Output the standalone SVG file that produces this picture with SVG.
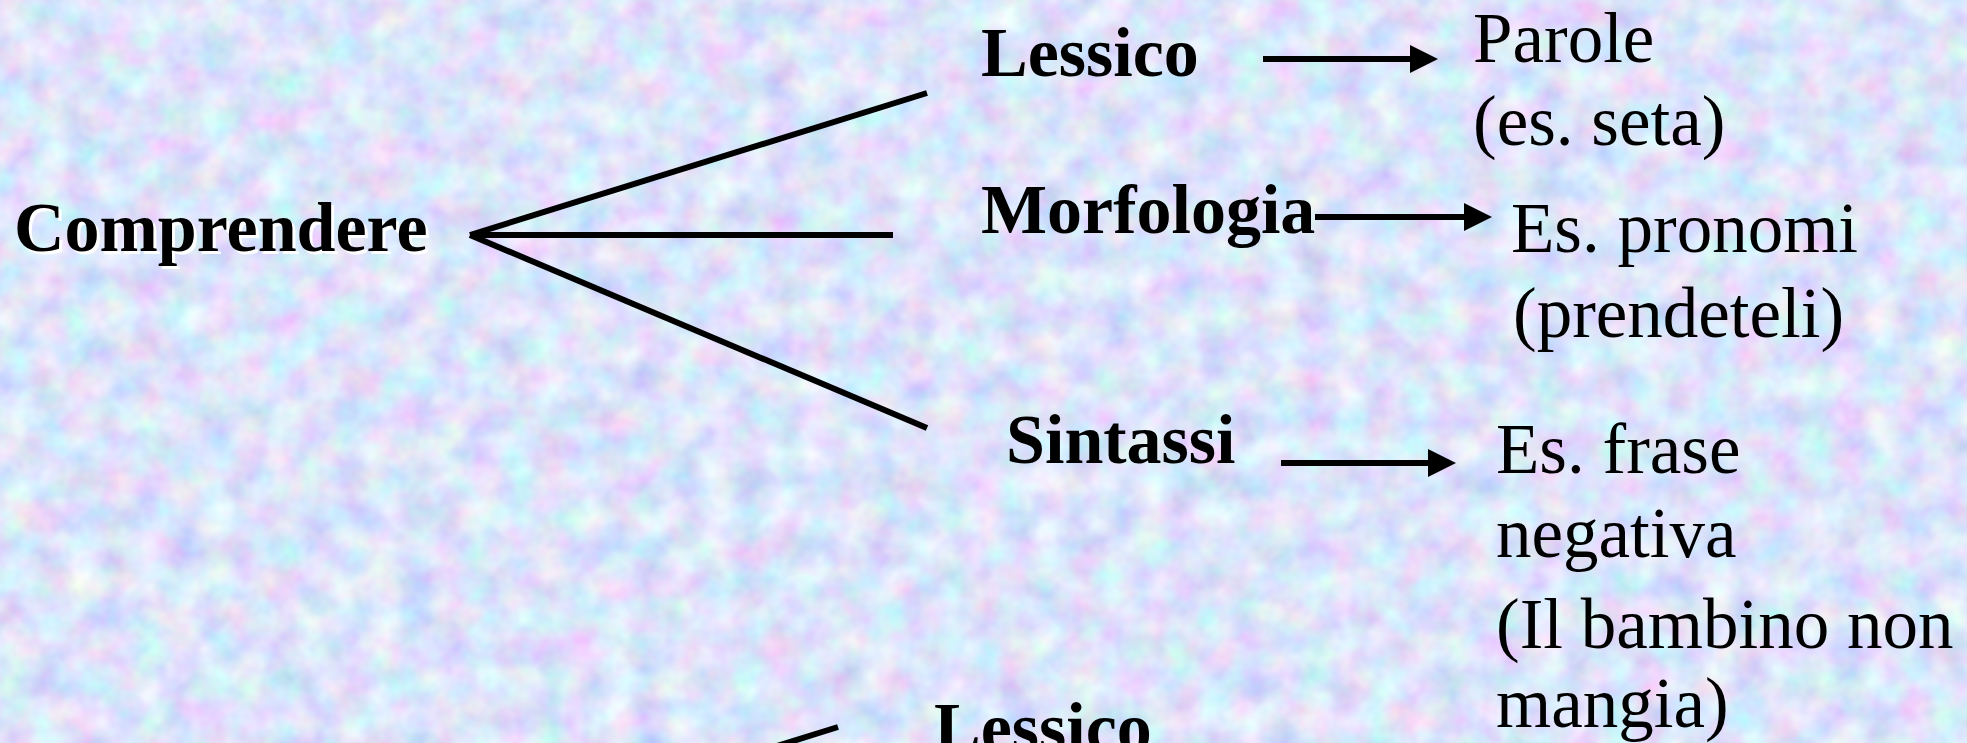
<svg xmlns="http://www.w3.org/2000/svg" width="1967" height="743" viewBox="0 0 1967 743">
  <defs>
    <filter id="tex" x="0" y="0" width="1967" height="743" filterUnits="userSpaceOnUse">
      <feTurbulence type="fractalNoise" baseFrequency="0.03" numOctaves="3" seed="11" result="n"/>
      <feColorMatrix in="n" type="matrix" values="0.6 0 0 0 0.42  0 0.6 0 0 0.48  0 0 0.3 0 0.81  0 0 0 0 1"/>
    </filter>
    <marker id="ah" markerUnits="userSpaceOnUse" markerWidth="32" markerHeight="32" refX="18" refY="14" orient="auto">
      <path d="M0,0 L28,14 L0,28 z" fill="#000"/>
    </marker>
    <style>
      .bold { font-family: "Liberation Serif", "Times New Roman", serif; font-weight: bold; font-size: 70px; fill: #000; }
      .reg { font-family: "Liberation Serif", "Times New Roman", serif; font-size: 71px; fill: #000; }
      .shadow { fill: #fff; }
      .branch { stroke: #000; stroke-width: 6; fill: none; stroke-linecap: butt; }
      .arrow { stroke: #000; stroke-width: 6; fill: none; marker-end: url(#ah); }
    </style>
  </defs>

  <rect x="0" y="0" width="1967" height="743" fill="#b6c8f4"/>
  <rect x="0" y="0" width="1967" height="743" filter="url(#tex)"/>

  <g id="connectors">
    <line class="branch" x1="470" y1="235" x2="927" y2="93"/>
    <line class="branch" x1="470" y1="235" x2="893" y2="235"/>
    <line class="branch" x1="470" y1="235" x2="927" y2="428"/>
    <line class="branch" x1="838" y1="727" x2="700" y2="770"/>
    <line class="arrow" x1="1263" y1="59" x2="1428" y2="59"/>
    <line class="arrow" x1="1315" y1="217" x2="1482" y2="217"/>
    <line class="arrow" x1="1281" y1="463" x2="1446" y2="463"/>
  </g>

  <g id="node-comprendere">
    <text class="bold shadow" x="17" y="254" font-size="71">Comprendere</text>
    <text class="bold" x="14" y="251" font-size="71">Comprendere</text>
  </g>
  <g id="node-lessico">
    <text class="bold" x="981" y="76">Lessico</text>
  </g>
  <g id="node-morfologia">
    <text class="bold" x="981" y="233">Morfologia</text>
  </g>
  <g id="node-sintassi">
    <text class="bold" x="1006" y="463">Sintassi</text>
  </g>
  <g id="node-parole">
    <text class="reg" x="1473" y="62">Parole</text>
    <text class="reg" x="1473" y="145">(es. seta)</text>
  </g>
  <g id="node-pronomi">
    <text class="reg" x="1511" y="252">Es. pronomi</text>
    <text class="reg" x="1513" y="337">(prendeteli)</text>
  </g>
  <g id="node-frase">
    <text class="reg" x="1496" y="473">Es. frase</text>
    <text class="reg" x="1496" y="557">negativa</text>
    <text class="reg" x="1496" y="648">(Il bambino non</text>
    <text class="reg" x="1496" y="727">mangia)</text>
  </g>
  <g id="node-lessico-2">
    <text class="bold" x="934" y="751">Lessico</text>
  </g>
</svg>
